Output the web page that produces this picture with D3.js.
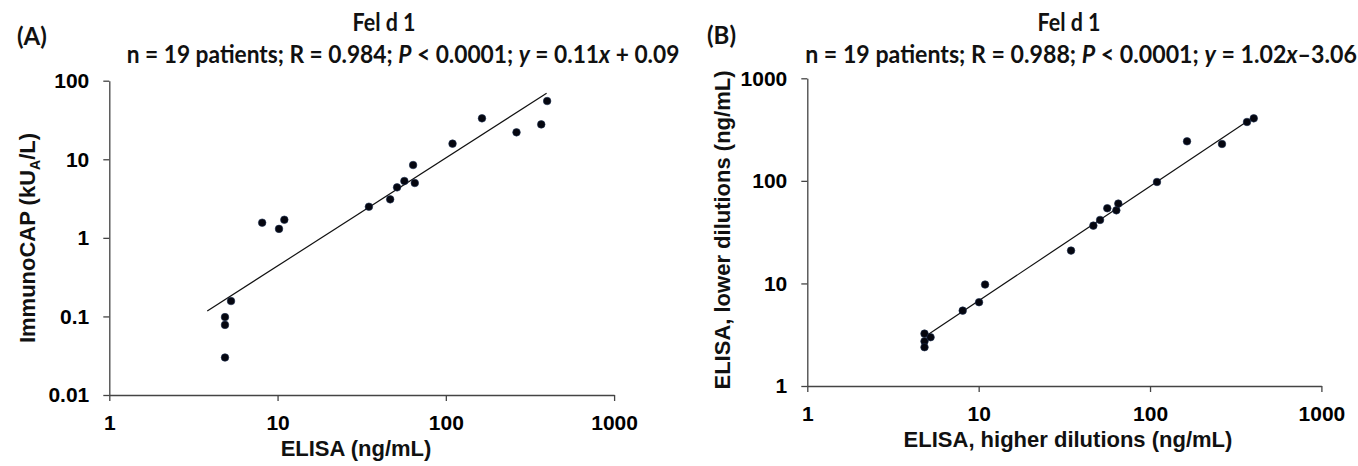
<!DOCTYPE html>
<html>
<head>
<meta charset="utf-8">
<script src="https://cdn.jsdelivr.net/npm/d3@7"></script>
<style>
  body { margin: 0; background: #fff; }
  svg { display: block; }
  .tick text { font-family: "Liberation Sans", Arial, sans-serif; font-weight: bold; font-size: 21px; fill: #000; }
  .tick line, .domain { stroke: #444; stroke-width: 1.3px; }
  .axisTitle { font-family: "Liberation Sans", Arial, sans-serif; font-weight: bold; font-size: 22px; fill: #111; }
  .title { font-family: Lato, "Open Sans", sans-serif; font-weight: bold; font-size: 25px; fill: #111; }
</style>
</head>
<body>
<script>
// Panel A: ELISA (ng/mL) vs ImmunoCAP (kUA/L)
var elisaA = [4.87, 4.87, 4.87, 5.29, 8.1, 10.2, 10.97, 34.9, 46.7, 51.3, 56.7, 63.9, 65.4, 109.6, 164, 263, 369, 400];
var capA   = [0.030, 0.078, 0.098, 0.157, 1.56, 1.30, 1.70, 2.49, 3.09, 4.39, 5.29, 8.45, 4.99, 15.8, 33.2, 22.0, 27.8, 55.1];
var fitA_x = [3.82, 397];
var fitA_y = [0.117, 69.2];
var xTicksA = [1, 10, 100, 1000];
var yTicksA = [0.01, 0.1, 1, 10, 100];

// Panel B: higher dilutions vs lower dilutions (ng/mL)
var higherB = [4.83, 4.83, 4.83, 5.24, 8.07, 10.05, 10.9, 34.6, 46.7, 51.1, 56.3, 63.6, 65.3, 109.8, 164.4, 263, 368, 403];
var lowerB  = [3.24, 2.73, 2.39, 2.99, 5.43, 6.56, 9.75, 20.9, 36.6, 41.6, 54.1, 51.6, 60.0, 97.5, 243, 229, 375, 407];
var fitB_x = [4.97, 401];
var fitB_y = [3.1, 417];
var xTicksB = [1, 10, 100, 1000];
var yTicksB = [1, 10, 100, 1000];

var width = 1358;
var height = 466;

var svg = d3.select('body').append('svg')
  .attr('width', width)
  .attr('height', height);

svg.append('rect').attr('width', width).attr('height', height).attr('fill', '#fff');

var xA = d3.scaleLog().domain([1, 1000]).range([109.3, 614.1]);
var yA = d3.scaleLog().domain([0.01, 100]).range([395, 80.7]);
var xB = d3.scaleLog().domain([1, 1000]).range([807.3, 1321.4]);
var yB = d3.scaleLog().domain([1, 1000]).range([386, 78.3]);

function drawPanel(xs, ys, xv, yv, fx, fy, xt, yt) {
  var g = svg.append('g');

  g.append('g')
    .attr('transform', 'translate(0,' + ys.range()[0] + ')')
    .call(d3.axisBottom(xs).tickValues(xt).tickFormat(d => String(d))
      .tickSize(6).tickSizeOuter(0).tickPadding(14));

  g.append('g')
    .attr('transform', 'translate(' + xs.range()[0] + ',0)')
    .call(d3.axisLeft(ys).tickValues(yt).tickFormat(d => String(d))
      .tickSize(6).tickSizeOuter(0).tickPadding(14));

  // regression line
  g.append('line')
    .attr('x1', xs(fx[0])).attr('y1', ys(fy[0]))
    .attr('x2', xs(fx[1])).attr('y2', ys(fy[1]))
    .attr('stroke', '#111')
    .attr('stroke-width', 1.2);

  g.selectAll('circle')
    .data(xv.map((d, i) => ({x: d, y: yv[i]})))
    .enter().append('circle')
    .attr('cx', d => xs(d.x))
    .attr('cy', d => ys(d.y))
    .attr('r', 3.8)
    .attr('fill', '#05060f')
    .attr('stroke', '#1b2d4f')
    .attr('stroke-width', 0.6);
  return g;
}

drawPanel(xA, yA, elisaA, capA, fitA_x, fitA_y, xTicksA, yTicksA);
drawPanel(xB, yB, higherB, lowerB, fitB_x, fitB_y, xTicksB, yTicksB);

// axis titles
svg.append('text').attr('class', 'axisTitle')
  .attr('x', 356).attr('y', 456)
  .attr('text-anchor', 'middle')
  .text('ELISA (ng/mL)');

svg.append('text').attr('class', 'axisTitle')
  .attr('x', 1068).attr('y', 447)
  .attr('text-anchor', 'middle')
  .text('ELISA, higher dilutions (ng/mL)');

var yTitleA = svg.append('text').attr('class', 'axisTitle')
  .attr('transform', 'translate(35,238) rotate(-90)')
  .attr('text-anchor', 'middle');
yTitleA.append('tspan').text('ImmunoCAP (kU');
yTitleA.append('tspan').attr('dy', 5).style('font-size', '14px').text('A');
yTitleA.append('tspan').attr('dy', -5).text('/L)');

svg.append('text').attr('class', 'axisTitle')
  .attr('transform', 'translate(730,230) rotate(-90)')
  .attr('text-anchor', 'middle')
  .text('ELISA, lower dilutions (ng/mL)');

// titles, squeezed to the widths
function fitText(sel, cx, y, target) {
  var w = sel.node().getBBox().width;
  sel.attr('text-anchor', 'middle')
    .attr('transform', 'translate(' + cx + ',' + y + ') scale(' + (target / w) + ',1)');
}

function statLine(parts) {
  var t = svg.append('text').attr('class', 'title');
  parts.forEach(function(p) {
    var ts = t.append('tspan').text(p[0]);
    if (p[1]) ts.style('font-style', 'italic');
  });
  return t;
}

fitText(svg.append('text').attr('class', 'title').text('Fel d 1'), 384, 31, 63);
fitText(svg.append('text').attr('class', 'title').text('Fel d 1'), 1069, 31, 63);

fitText(statLine([['n = 19 patients; R = 0.984; '], ['P', 1], [' < 0.0001; '], ['y', 1], [' = 0.11'], ['x', 1], [' + 0.09']]), 403, 63, 553);
fitText(statLine([['n = 19 patients; R = 0.988; '], ['P', 1], [' < 0.0001; '], ['y', 1], [' = 1.02'], ['x', 1], ['\u20133.06']]), 1081, 63, 552);

svg.append('text').attr('class', 'title').attr('x', 17).attr('y', 45).style('font-size', '24px').text('(A)');
svg.append('text').attr('class', 'title').attr('x', 707).attr('y', 44).style('font-size', '24px').text('(B)');
</script>
</body>
</html>
